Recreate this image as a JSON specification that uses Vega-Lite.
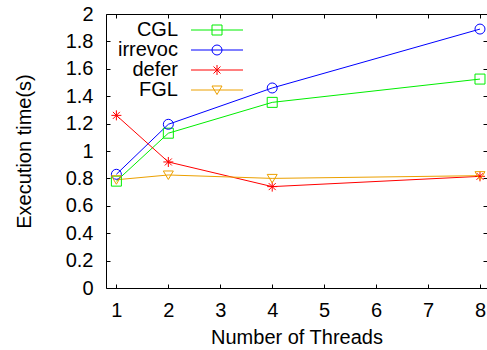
{
  "$schema": "https://vega.github.io/schema/vega-lite/v6.json",
  "width": 381,
  "height": 274,
  "autosize": {"type": "none"},
  "padding": {"left": 106, "top": 14, "right": 0, "bottom": 62},
  "config": {
    "view": {"stroke": "black", "strokeWidth": 1},
    "font": "Liberation Sans",
    "axis": {
      "grid": false,
      "domain": false,
      "labelFont": "Liberation Sans",
      "labelFontSize": 20,
      "labelColor": "black",
      "titleFont": "Liberation Sans",
      "titleFontSize": 20,
      "titleFontWeight": "normal",
      "titleColor": "black",
      "tickColor": "black",
      "tickSize": -4,
      "tickWidth": 1
    }
  },
  "data": {
    "values": [
      {"series": "CGL", "threads": 1, "time": 0.78},
      {"series": "CGL", "threads": 2, "time": 1.13},
      {"series": "CGL", "threads": 4, "time": 1.355},
      {"series": "CGL", "threads": 8, "time": 1.525},
      {"series": "irrevoc", "threads": 1, "time": 0.83},
      {"series": "irrevoc", "threads": 2, "time": 1.195},
      {"series": "irrevoc", "threads": 4, "time": 1.46},
      {"series": "irrevoc", "threads": 8, "time": 1.89},
      {"series": "defer", "threads": 1, "time": 1.26},
      {"series": "defer", "threads": 2, "time": 0.92},
      {"series": "defer", "threads": 4, "time": 0.74},
      {"series": "defer", "threads": 8, "time": 0.815},
      {"series": "FGL", "threads": 1, "time": 0.79},
      {"series": "FGL", "threads": 2, "time": 0.825},
      {"series": "FGL", "threads": 4, "time": 0.8},
      {"series": "FGL", "threads": 8, "time": 0.82}
    ]
  },
  "layer": [
    {
      "mark": {"type": "line", "strokeWidth": 1, "clip": true},
      "encoding": {
        "x": {
          "field": "threads",
          "type": "quantitative",
          "scale": {"domain": [0.8, 8.135], "nice": false, "zero": false},
          "axis": {"values": [1, 2, 3, 4, 5, 6, 7, 8], "title": "Number of Threads", "labelPadding": 16, "titlePadding": 7}
        },
        "y": {
          "field": "time",
          "type": "quantitative",
          "scale": {"domain": [0, 2], "nice": false},
          "axis": {"values": [0, 0.2, 0.4, 0.6, 0.8, 1, 1.2, 1.4, 1.6, 1.8, 2], "format": "~g", "title": "Execution time(s)", "labelPadding": 17, "titlePadding": 31}
        },
        "color": {
          "field": "series",
          "type": "nominal",
          "sort": null,
          "scale": {"domain": ["CGL", "irrevoc", "defer", "FGL"], "range": ["#00ee00", "#0000ff", "#ff0000", "#eca000"]},
          "legend": {
            "orient": "none",
            "legendX": 111,
            "legendY": 6,
            "title": null,
            "padding": 0,
            "labelFont": "Liberation Sans",
            "labelFontSize": 20,
            "labelColor": "black",
            "labelLimit": 300,
            "symbolSize": 100,
            "symbolStrokeWidth": 1,
            "rowPadding": 0,
            "encode": {
              "symbols": {
                "update": {
                  "shape": {"signal": "datum.value === 'CGL' ? 'M-5.2,0H5.2M-1,-1H1V1H-1Z' : datum.value === 'irrevoc' ? 'M-5.2,0H5.2M-1,0A1,1 0 1,1 1,0A1,1 0 1,1 -1,0' : datum.value === 'defer' ? 'M-5.2,0H5.2M0,-1V1M-0.7,-0.7L0.7,0.7M-0.7,0.7L0.7,-0.7' : 'M-5.2,0H5.2M-1,-0.8H1L0,0.9Z'"},
                  "x": {"value": 0}
                }
              },
              "labels": {
                "update": {"x": {"value": -39}, "align": {"value": "right"}}
              }
            }
          }
        }
      }
    },
    {
      "transform": [{"filter": "datum.series === 'CGL'"}],
      "mark": {"type": "point", "shape": "M-1,-1H1V1H-1Z", "filled": false, "strokeWidth": 1, "size": 100, "opacity": 1, "color": "#00ee00"},
      "encoding": {
        "x": {
          "field": "threads",
          "type": "quantitative",
          "scale": {"domain": [0.8, 8.135], "nice": false, "zero": false},
          "axis": {"orient": "top", "values": [1, 2, 3, 4, 5, 6, 7, 8], "labels": false, "title": null}
        },
        "y": {
          "field": "time",
          "type": "quantitative",
          "scale": {"domain": [0, 2], "nice": false},
          "axis": {"orient": "right", "values": [0, 0.2, 0.4, 0.6, 0.8, 1, 1.2, 1.4, 1.6, 1.8, 2], "labels": false, "title": null}
        }
      }
    },
    {
      "transform": [{"filter": "datum.series === 'irrevoc'"}],
      "mark": {"type": "point", "shape": "M-1,0A1,1 0 1,1 1,0A1,1 0 1,1 -1,0", "filled": false, "strokeWidth": 1, "size": 100, "opacity": 1, "color": "#0000ff"},
      "encoding": {
        "x": {"field": "threads", "type": "quantitative", "axis": null},
        "y": {"field": "time", "type": "quantitative", "axis": null}
      }
    },
    {
      "transform": [{"filter": "datum.series === 'defer'"}],
      "mark": {"type": "point", "shape": "M-1,0H1M0,-1V1M-0.7,-0.7L0.7,0.7M-0.7,0.7L0.7,-0.7", "filled": false, "strokeWidth": 1, "size": 100, "opacity": 1, "color": "#ff0000"},
      "encoding": {
        "x": {"field": "threads", "type": "quantitative", "axis": null},
        "y": {"field": "time", "type": "quantitative", "axis": null}
      }
    },
    {
      "transform": [{"filter": "datum.series === 'FGL'"}],
      "mark": {"type": "point", "shape": "M-1,-0.8H1L0,0.9Z", "filled": false, "strokeWidth": 1, "size": 100, "opacity": 1, "color": "#eca000"},
      "encoding": {
        "x": {"field": "threads", "type": "quantitative", "axis": null},
        "y": {"field": "time", "type": "quantitative", "axis": null}
      }
    }
  ],
  "resolve": {"axis": {"x": "independent", "y": "independent"}}
}
